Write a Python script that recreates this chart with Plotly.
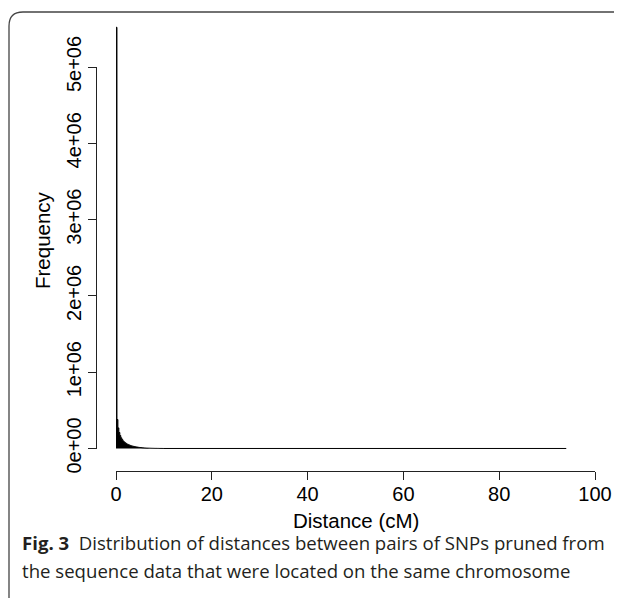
import plotly.graph_objects as go

# ---- data ----
bin_width = 0.2
near_counts = [5520000, 380000, 270000, 210000, 170000, 140000, 120000, 100000, 88000, 77000,
               68000, 60000, 54000, 48000, 43000, 38000, 34000, 31000, 28000, 25000,
               22000, 20000, 18000, 16000, 14000, 13000, 12000, 10000, 9000, 8000,
               7000, 6000, 5500, 5000, 4500, 4000, 3500, 3000, 2700, 2400,
               2000, 1800, 1600, 1400, 1200, 1000, 900, 800, 700, 600]
tail_end = 94.0          # last break of the histogram (cM)
tail_count = 200         # average count per bin beyond 10 cM (invisible)

x_ticks = [0, 20, 40, 60, 80, 100]
y_ticks = [0, 1e6, 2e6, 3e6, 4e6, 5e6]
y_ticklabels = ["0e+00", "1e+06", "2e+06", "3e+06", "4e+06", "5e+06"]

breaks = [round(i * bin_width, 4) for i in range(len(near_counts) + 1)] + [tail_end]
counts = near_counts + [tail_count]

# page offset (default body margin) compensation
OFF = 8
W, H = 622 - OFF, 599 - OFF
def px(x):
    return (x - OFF) / W
def py(y):
    return (H - (y - OFF)) / H

# pixel geometry (reference window coordinates)
x0_px, x100_px = 116, 595
y0_px = 448.5
per_m = 76.3
ymin, ymax = -0.05e6, 5.62e6

fig = go.Figure()
fig.add_trace(go.Scatter(
    x=breaks, y=counts + [counts[-1]],
    mode="lines", line=dict(shape="hv", color="black", width=1),
    fill="tozeroy", fillcolor="black", hoverinfo="skip", showlegend=False,
    xaxis="x", yaxis="y"))

font = "Liberation Sans, Arial, Helvetica, sans-serif"

fig.update_layout(
    width=W, height=H, autosize=False,
    margin=dict(l=0, r=0, t=0, b=0, pad=0, autoexpand=False),
    paper_bgcolor="white", plot_bgcolor="rgba(0,0,0,0)",
    showlegend=False,
    xaxis=dict(
        domain=[px(x0_px), px(x100_px)], range=[0, 100],
        anchor="free", position=py(471), automargin=False,
        showline=True, linecolor="#222", linewidth=1,
        ticks="outside", ticklen=8, tickcolor="#222", tickwidth=1,
        tickvals=x_ticks, ticktext=[str(v) for v in x_ticks],
        tickfont=dict(family=font, size=20, color="black"),
        ticklabelstandoff=-3,
        showgrid=False, zeroline=False, fixedrange=True,
    ),
    yaxis=dict(
        domain=[py(y0_px - ymin / 1e6 * per_m), py(y0_px - ymax / 1e6 * per_m)],
        range=[ymin, ymax], automargin=False,
        anchor="free", position=px(x0_px),
        visible=False, showgrid=False, zeroline=False, fixedrange=True,
    ),
    yaxis2=dict(
        domain=[py(y0_px), py(y0_px - 5 * per_m)], range=[0, 5e6],
        anchor="free", position=px(96), automargin=False,
        showline=True, linecolor="#222", linewidth=1,
        ticks="outside", ticklen=8, tickcolor="#222", tickwidth=1,
        tickvals=y_ticks, ticktext=y_ticklabels, tickangle=-90,
        tickfont=dict(family=font, size=20, color="black"),
        ticklabelstandoff=-1,
        showgrid=False, zeroline=False, fixedrange=True,
    ),
)

# invisible trace to make yaxis2 render
fig.add_trace(go.Scatter(x=[None], y=[None], xaxis="x", yaxis="y2",
                         showlegend=False, hoverinfo="skip"))

fig.add_annotation(text="Distance (cM)", xref="paper", yref="paper",
                   x=px(355.5), y=py(520), showarrow=False,
                   font=dict(family=font, size=20.5, color="black"),
                   xanchor="center", yanchor="middle")
fig.add_annotation(text="Frequency", xref="paper", yref="paper",
                   x=px(42), y=py(240), showarrow=False, textangle=-90,
                   font=dict(family=font, size=20.5, color="black"),
                   xanchor="center", yanchor="middle")

cap_font = "Open Sans, Noto Sans, sans-serif"
fig.add_annotation(text="<b>Fig. 3</b>  Distribution of distances between pairs of SNPs pruned from",
                   xref="paper", yref="paper", x=px(20), y=py(542), showarrow=False,
                   font=dict(family=cap_font, size=18.6, color="#231f20"),
                   xanchor="left", yanchor="middle")
fig.add_annotation(text="the sequence data that were located on the same chromosome",
                   xref="paper", yref="paper", x=px(20), y=py(570), showarrow=False,
                   font=dict(family=cap_font, size=18.6, color="#231f20"),
                   xanchor="left", yanchor="middle")

# rounded frame (top and left edges)
path = (f"M {px(9)},{py(598)} L {px(9)},{py(26)} "
        f"Q {px(9)},{py(12)} {px(23)},{py(12)} L {px(622)},{py(12)}")
fig.add_shape(type="path", path=path, xref="paper", yref="paper",
              line=dict(color="#444", width=1.3))

fig.write_html("out.html")
